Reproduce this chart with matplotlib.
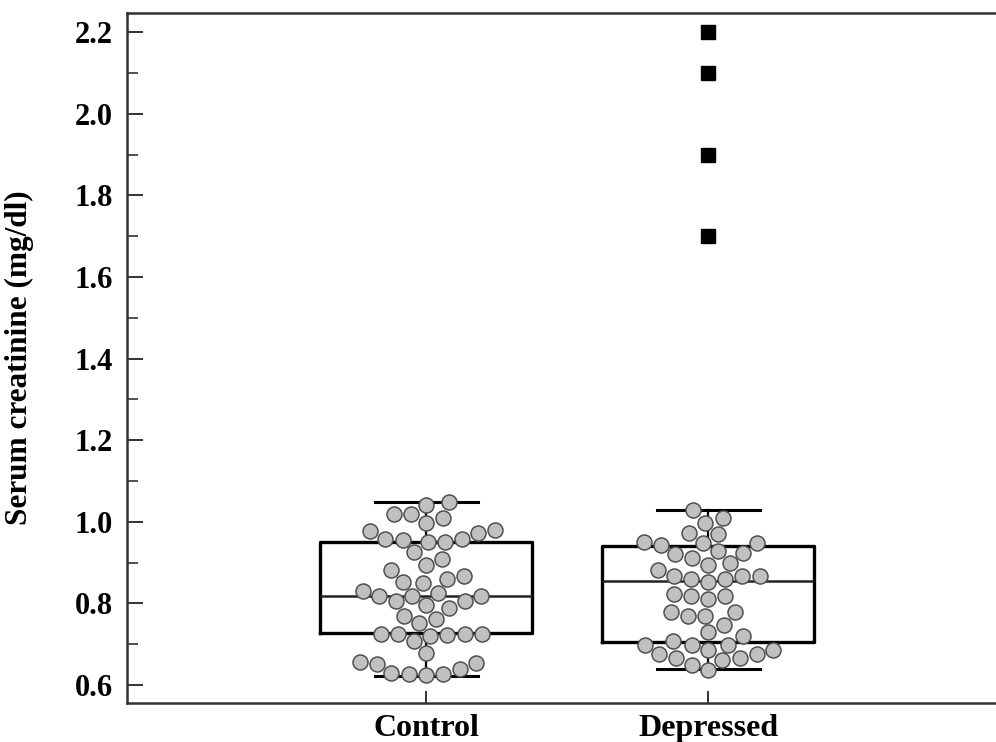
import numpy as np
import pandas as pd
import matplotlib
matplotlib.use("Agg")
import matplotlib.pyplot as plt
import seaborn as sns

groups = ["Control", "Depressed"]

control = [1.048, 1.042, 1.010, 1.018, 1.020, 0.998, 0.977, 0.979, 0.973,
           0.951, 0.951, 0.957, 0.955, 0.958, 0.925, 0.909, 0.895, 0.881,
           0.868, 0.860, 0.852, 0.849, 0.818, 0.818, 0.818, 0.826, 0.830,
           0.788, 0.796, 0.805, 0.805, 0.752, 0.761, 0.769, 0.707, 0.722,
           0.720, 0.725, 0.725, 0.725, 0.725, 0.679, 0.652, 0.654, 0.657,
           0.640, 0.624, 0.627, 0.630, 0.627]

depressed = [1.028, 1.010, 0.998, 0.971, 0.973, 0.944, 0.949, 0.949, 0.950,
             0.912, 0.920, 0.924, 0.928, 0.883, 0.895, 0.898, 0.852, 0.859,
             0.859, 0.867, 0.867, 0.867, 0.810, 0.818, 0.818, 0.824, 0.769,
             0.769, 0.778, 0.778, 0.748, 0.729, 0.699, 0.699, 0.699, 0.707,
             0.720, 0.667, 0.667, 0.675, 0.675, 0.687, 0.687, 0.650, 0.661,
             0.638]

depressed_outliers = [2.2, 2.1, 1.9, 1.7]

# box summary: lower whisker, Q1, median, Q3, upper whisker
control_box = [0.622, 0.727, 0.818, 0.950, 1.049]
depressed_box = [0.639, 0.705, 0.855, 0.941, 1.029]

plt.rcParams["font.family"] = ["Liberation Serif", "DejaVu Serif"]
plt.rcParams["font.weight"] = "bold"

fig = plt.figure(figsize=(9.96, 7.42), dpi=100)
ax = fig.add_axes([0.1275, 0.0526, 0.8725, 0.93])

df = pd.DataFrame({
    "group": ["Control"] * len(control) + ["Depressed"] * len(depressed),
    "value": control + depressed,
})

stats = []
for name, b, fl in [("Control", control_box, []),
                    ("Depressed", depressed_box, depressed_outliers)]:
    stats.append(dict(label=name, whislo=b[0], q1=b[1], med=b[2], q3=b[3],
                      whishi=b[4], fliers=fl))

ax.bxp(stats, positions=[0, 1], widths=0.75, capwidths=0.365,
       boxprops=dict(color="black", linewidth=2.4),
       medianprops=dict(color="#222222", linewidth=1.8),
       whiskerprops=dict(color="black", linewidth=1.6),
       capprops=dict(color="black", linewidth=2.2),
       flierprops=dict(marker="s", markersize=10, markerfacecolor="black",
                       markeredgecolor="black"),
       zorder=2)

sns.swarmplot(data=df, x="group", y="value", ax=ax, size=10.8,
              color="#c0c0c0", edgecolor="#505050", linewidth=1.1,
              zorder=3)

ax.set_xlim(-1.06, 2.02)
ax.set_ylim(0.556, 2.247)
ax.set_xticks([0, 1])
ax.set_xticklabels(groups, fontsize=23, fontweight="bold")
ax.set_yticks(np.arange(0.6, 2.21, 0.2))
ax.set_yticks(np.arange(0.7, 2.2, 0.2), minor=True)
ax.set_yticklabels([f"{v:.1f}" for v in np.arange(0.6, 2.21, 0.2)],
                   fontsize=22, fontweight="bold")
ax.set_xlabel("")
ax.set_ylabel("Serum creatinine (mg/dl)", fontsize=22.5, fontweight="bold")
ax.yaxis.set_label_coords(-0.107, 0.5)

ax.tick_params(axis="y", which="major", direction="in", length=11.5, width=1.4,
               pad=10, color="#333333")
ax.tick_params(axis="y", which="minor", direction="in", length=8, width=1.2,
               color="#333333")
ax.tick_params(axis="x", direction="in", length=9, width=1.4, pad=8,
               color="#333333")

for side in ["left", "top", "bottom"]:
    ax.spines[side].set_linewidth(1.8)
    ax.spines[side].set_color("#333333")
ax.spines["right"].set_visible(False)

fig.savefig("out.png", dpi=100)
